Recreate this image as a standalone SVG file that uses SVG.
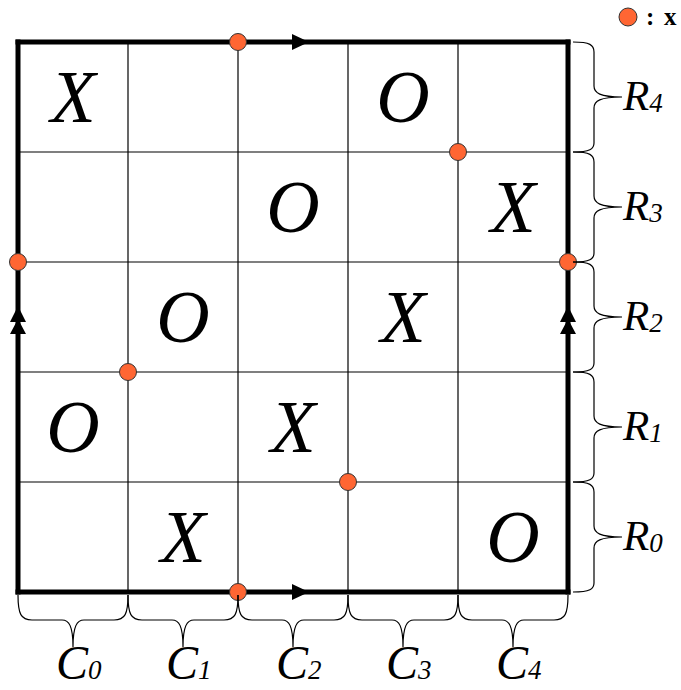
<svg xmlns="http://www.w3.org/2000/svg" width="681" height="690" viewBox="0 0 681 690">
<defs>
<style>
.grid{stroke:#000;stroke-width:1.2;fill:none}
.border{stroke:#000;stroke-width:5;fill:none;stroke-linecap:square}
.brace{stroke:#000;stroke-width:1.2;fill:none}
.mark{font-family:"Liberation Serif","Times New Roman",serif;font-style:italic;font-size:74px;fill:#000;text-anchor:middle}
.rl{font-family:"Liberation Serif","Times New Roman",serif;font-style:italic;font-size:43px;fill:#000}
.cl{font-family:"Liberation Serif","Times New Roman",serif;font-style:italic;font-size:48px;fill:#000}
.sub{font-size:27px}
.dot{fill:#FF6633;stroke:#333;stroke-width:1}
.arr{fill:#000}
.leg{font-family:"Liberation Serif","Times New Roman",serif;font-weight:bold;font-size:25px;fill:#000}
</style>
</defs>
<rect width="681" height="690" fill="#fff"/>
<g id="grid">
<line class="grid" x1="128" y1="42" x2="128" y2="592"/>
<line class="grid" x1="238" y1="42" x2="238" y2="592"/>
<line class="grid" x1="348" y1="42" x2="348" y2="592"/>
<line class="grid" x1="458" y1="42" x2="458" y2="592"/>
<line class="grid" x1="18" y1="152" x2="568" y2="152"/>
<line class="grid" x1="18" y1="262" x2="568" y2="262"/>
<line class="grid" x1="18" y1="372" x2="568" y2="372"/>
<line class="grid" x1="18" y1="482" x2="568" y2="482"/>
</g>
<g id="connectors">
<line class="border" x1="18" y1="42" x2="568" y2="42"/>
<line class="border" x1="18" y1="592" x2="568" y2="592"/>
<line class="border" x1="18" y1="42" x2="18" y2="592"/>
<line class="border" x1="568" y1="42" x2="568" y2="592"/>
<polygon class="arr" points="292,34 309,42 292,50"/>
<polygon class="arr" points="292,584 309,592 292,600"/>
<polygon class="arr" points="18,306 10,322 26,322"/>
<polygon class="arr" points="18,319 10,334 26,334"/>
<polygon class="arr" points="568,306 560,322 576,322"/>
<polygon class="arr" points="568,319 560,334 576,334"/>
</g>
<g id="marks">
<text class="mark" x="73" y="122">X</text>
<text class="mark" x="403" y="122">O</text>
<text class="mark" x="293" y="232">O</text>
<text class="mark" x="513" y="232">X</text>
<text class="mark" x="183" y="342">O</text>
<text class="mark" x="403" y="342">X</text>
<text class="mark" x="73" y="452">O</text>
<text class="mark" x="293" y="452">X</text>
<text class="mark" x="183" y="562">X</text>
<text class="mark" x="513" y="562">O</text>
</g>
<g id="dots">
<circle class="dot" cx="238" cy="42" r="8.5"/>
<circle class="dot" cx="458" cy="152" r="8.5"/>
<circle class="dot" cx="18" cy="262" r="8.5"/>
<circle class="dot" cx="568" cy="262" r="8.5"/>
<circle class="dot" cx="128" cy="372" r="8.5"/>
<circle class="dot" cx="348" cy="482" r="8.5"/>
<circle class="dot" cx="238" cy="592" r="8.5"/>
</g>
<g id="row-braces">
<path class="brace" d="M573,42 C590,42 594,45 594,52 L594,86 C594,93 600,97 622,97 C600,97 594,101 594,108 L594,143 C594,149 590,152 573,152"/>
<path class="brace" d="M573,152 C590,152 594,155 594,162 L594,196 C594,203 600,207 622,207 C600,207 594,211 594,218 L594,253 C594,259 590,262 573,262"/>
<path class="brace" d="M573,262 C590,262 594,265 594,272 L594,306 C594,313 600,317 622,317 C600,317 594,321 594,328 L594,363 C594,369 590,372 573,372"/>
<path class="brace" d="M573,372 C590,372 594,375 594,382 L594,416 C594,423 600,427 622,427 C600,427 594,431 594,438 L594,473 C594,479 590,482 573,482"/>
<path class="brace" d="M573,482 C590,482 594,485 594,492 L594,526 C594,533 600,537 622,537 C600,537 594,541 594,548 L594,583 C594,589 590,592 573,592"/>
</g>
<g id="col-braces">
<path class="brace" d="M18,595 C18,614 21,620 32,620 L62,620 C69,620 73,626 73,647 C73,626 77,620 84,620 L114,620 C125,620 128,614 128,595"/>
<path class="brace" d="M128,595 C128,614 131,620 142,620 L172,620 C179,620 183,626 183,647 C183,626 187,620 194,620 L224,620 C235,620 238,614 238,595"/>
<path class="brace" d="M238,595 C238,614 241,620 252,620 L282,620 C289,620 293,626 293,647 C293,626 297,620 304,620 L334,620 C345,620 348,614 348,595"/>
<path class="brace" d="M348,595 C348,614 351,620 362,620 L392,620 C399,620 403,626 403,647 C403,626 407,620 414,620 L444,620 C455,620 458,614 458,595"/>
<path class="brace" d="M458,595 C458,614 461,620 472,620 L502,620 C509,620 513,626 513,647 C513,626 517,620 524,620 L554,620 C565,620 568,614 568,595"/>
</g>
<g id="row-labels">
<text class="rl" x="623" y="110">R<tspan class="sub" dy="2">4</tspan></text>
<text class="rl" x="623" y="220">R<tspan class="sub" dy="2">3</tspan></text>
<text class="rl" x="623" y="330">R<tspan class="sub" dy="2">2</tspan></text>
<text class="rl" x="623" y="440">R<tspan class="sub" dy="2">1</tspan></text>
<text class="rl" x="623" y="550">R<tspan class="sub" dy="2">0</tspan></text>
</g>
<g id="col-labels">
<text class="cl" x="56" y="679">C<tspan class="sub" dy="0">0</tspan></text>
<text class="cl" x="166" y="679">C<tspan class="sub" dy="0">1</tspan></text>
<text class="cl" x="276" y="679">C<tspan class="sub" dy="0">2</tspan></text>
<text class="cl" x="386" y="679">C<tspan class="sub" dy="0">3</tspan></text>
<text class="cl" x="496" y="679">C<tspan class="sub" dy="0">4</tspan></text>
</g>
<g id="legend">
<circle class="dot" cx="628" cy="17" r="9"/>
<text class="leg" x="646" y="25">:<tspan x="664">x</tspan></text>
</g>
</svg>
